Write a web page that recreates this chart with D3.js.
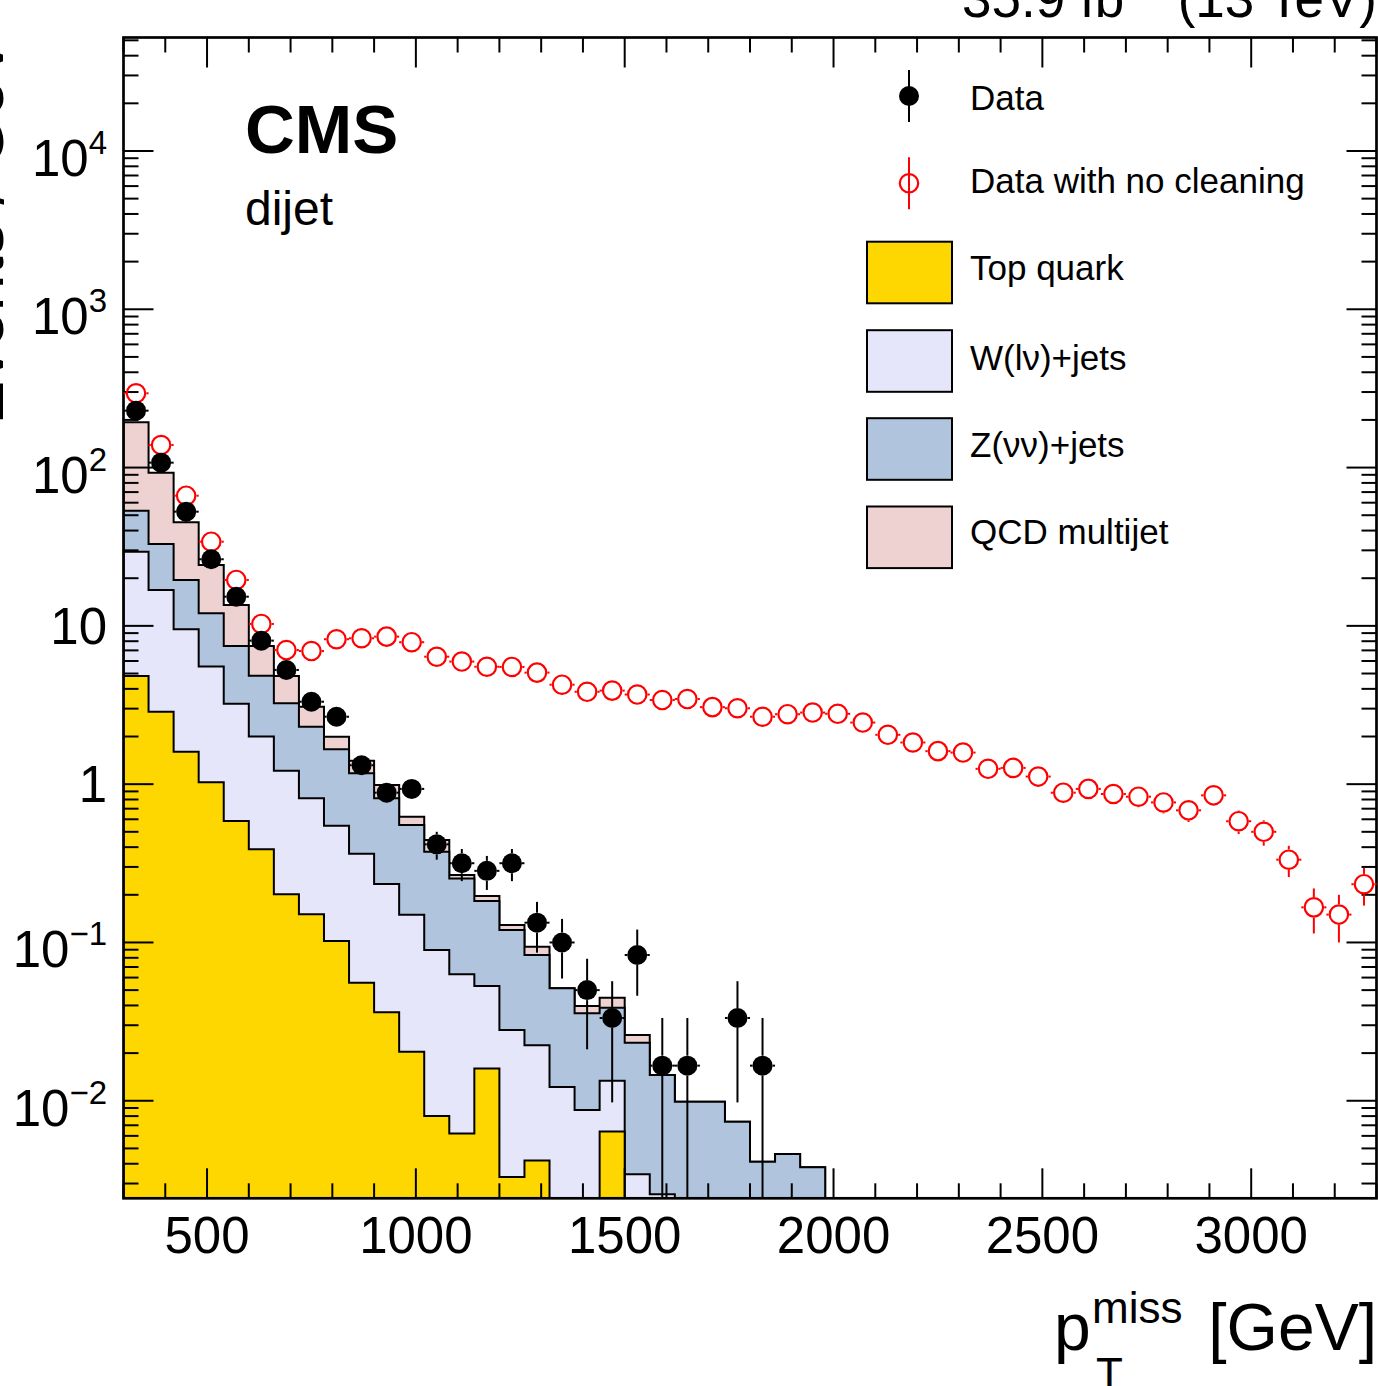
<!DOCTYPE html>
<html>
<head>
<meta charset="utf-8">
<script src="https://cdn.jsdelivr.net/npm/d3@7"></script>
<style>
  body { margin: 0; background: #fff; }
  svg { display: block; font-family: "Liberation Sans", Arial, Helvetica, sans-serif; }
</style>
</head>
<body>
<div id="chart"></div>
<script>
// 60 GeV bins from 300 to 3300 GeV (50 bins)
const binWidth = 60;
const binLow = d3.range(300, 3300, binWidth);

// stacked backgrounds, events / GeV per bin
const topQuark = [4.83, 2.87, 1.60, 1.03, 0.586, 0.388, 0.202, 0.151, 0.102, 0.0557,
  0.0362, 0.0204, 0.0080, 0.0062, 0.0160, 0.0033, 0.0042, 0, 0, 0.0064,
  0, 0, 0, 0, 0, 0, 0, 0, 0, 0,
  0, 0, 0, 0, 0, 0, 0, 0, 0, 0,
  0, 0, 0, 0, 0, 0, 0, 0, 0, 0];
const wJets = [24.6, 14.0, 7.91, 4.50, 2.63, 1.61, 1.015, 0.663, 0.445, 0.308,
  0.198, 0.129, 0.0817, 0.0568, 0.0371, 0.0247, 0.0182, 0.0122, 0.00875, 0.0070,
  0.00343, 0.00257, 0, 0, 0, 0, 0, 0, 0, 0,
  0, 0, 0, 0, 0, 0, 0, 0, 0, 0,
  0, 0, 0, 0, 0, 0, 0, 0, 0, 0];
const zJets = [24.0, 16.05, 9.98, 6.49, 4.25, 2.85, 2.03, 1.49, 1.115, 0.808,
  0.580, 0.403, 0.285, 0.191, 0.130, 0.0919, 0.061, 0.0392, 0.0270, 0.0253,
  0.0198, 0.0120, 0.00987, 0.00987, 0.00738, 0.00412, 0.00461, 0.0038, 0, 0,
  0, 0, 0, 0, 0, 0, 0, 0, 0, 0,
  0, 0, 0, 0, 0, 0, 0, 0, 0, 0];
const qcd = [139.9, 59.95, 25.6, 12.24, 6.09, 2.62, 1.58, 0.78, 0.333, 0.236,
  0.174, 0.071, 0.069, 0.0125, 0.0137, 0.0091, 0.0107, 0, 0.004, 0.0061,
  0.00275, 0, 0, 0, 0, 0, 0, 0, 0, 0,
  0, 0, 0, 0, 0, 0, 0, 0, 0, 0,
  0, 0, 0, 0, 0, 0, 0, 0, 0, 0];

// observed events per bin
const dataCounts = [13728, 6444, 3159, 1581, 917, 484, 316, 199, 160, 79,
  53, 56, 25, 19, 17, 19, 8, 6, 3, 2,
  5, 1, 1, 0, 2, 1, 0, 0, 0, 0,
  0, 0, 0, 0, 0, 0, 0, 0, 0, 0,
  0, 0, 0, 0, 0, 0, 0, 0, 0, 0];
const noCleanCounts = [17680, 8334, 3986, 2041, 1170, 617, 422, 416, 494, 501,
  513, 473, 383, 357, 331, 330, 304, 255, 230, 234,
  221, 204, 207, 184, 181, 160, 166, 170, 167, 147,
  123, 110, 97, 95, 75, 76, 67, 53, 56, 52,
  50, 46, 41, 51, 35, 30, 20, 10, 9, 14];

const xTickValues = [500, 1000, 1500, 2000, 2500, 3000];
const xTickLabels = ["500", "1000", "1500", "2000", "2500", "3000"];
const yTickDecades = [-2, -1, 0, 1, 2, 3, 4];

const stackKeys = ["top", "wjets", "zjets", "qcd"];
const stackColors = { top: "#ffd700", wjets: "#e6e6fa", zjets: "#b0c4de", qcd: "#eed2d2" };

// ---- layout
const W = 1378, H = 1386;
const plot = { left: 123.5, right: 1376.5, top: 37.5, bottom: 1198.3 };
const yMin = 0.00242, yMax = 52100;

const svg = d3.select("#chart").append("svg")
  .attr("width", W).attr("height", H);

const x = d3.scaleLinear().domain([300, 3300]).range([plot.left, plot.right]);
const y = d3.scaleLog().domain([yMin, yMax]).range([plot.bottom, plot.top]).clamp(true);
const yv = (v) => y(Math.max(v, yMin));

svg.append("clipPath").attr("id", "plotclip")
  .append("rect")
  .attr("x", plot.left).attr("y", plot.top)
  .attr("width", plot.right - plot.left).attr("height", plot.bottom - plot.top);

// ---- stacked histograms
const rows = binLow.map((lo, i) => ({
  lo: lo, top: topQuark[i], wjets: wJets[i], zjets: zJets[i], qcd: qcd[i]
}));
const series = d3.stack().keys(stackKeys)(rows);

const line = d3.line();
function stepPoints(layer) {
  const pts = [[x(300), plot.bottom]];
  layer.forEach((d) => {
    const yy = yv(d[1]);
    pts.push([x(d.data.lo), yy], [x(d.data.lo + binWidth), yy]);
  });
  pts.push([x(3300), plot.bottom]);
  return pts;
}

const gStack = svg.append("g").attr("clip-path", "url(#plotclip)");
// draw the tallest (cumulative) first so lower layers cover it
series.slice().reverse().forEach((layer) => {
  gStack.append("path")
    .attr("d", line(stepPoints(layer)) + "Z")
    .attr("fill", stackColors[layer.key])
    .attr("stroke", "#000")
    .attr("stroke-width", 2)
    .attr("stroke-linejoin", "miter");
});

// ---- axes (ROOT style: ticks inside on all four sides)
const xMinor = d3.range(300, 3301, 100);
const yMinor = [];
for (let k = -3; k <= 4; k++) {
  for (let m = 1; m <= 9; m++) {
    const v = m * Math.pow(10, k);
    if (v >= yMin && v <= yMax) yMinor.push(v);
  }
}
const yMajor = yTickDecades.map((k) => Math.pow(10, k));

const gAxes = svg.append("g").attr("stroke", "#000").attr("stroke-width", 2);
xMinor.forEach((v) => {
  const len = xTickValues.includes(v) ? 30 : 15;
  gAxes.append("line").attr("x1", x(v)).attr("x2", x(v))
    .attr("y1", plot.bottom).attr("y2", plot.bottom - len);
  gAxes.append("line").attr("x1", x(v)).attr("x2", x(v))
    .attr("y1", plot.top).attr("y2", plot.top + len);
});
yMinor.forEach((v) => {
  const len = yMajor.some((m) => Math.abs(m - v) / v < 1e-6) ? 30 : 15;
  gAxes.append("line").attr("y1", y(v)).attr("y2", y(v))
    .attr("x1", plot.left).attr("x2", plot.left + len);
  gAxes.append("line").attr("y1", y(v)).attr("y2", y(v))
    .attr("x1", plot.right).attr("x2", plot.right - len);
});

// frame
svg.append("rect")
  .attr("x", plot.left).attr("y", plot.top)
  .attr("width", plot.right - plot.left).attr("height", plot.bottom - plot.top)
  .attr("fill", "none").attr("stroke", "#000").attr("stroke-width", 2.7);

// x tick labels
svg.append("g").selectAll("text")
  .data(xTickValues)
  .join("text")
  .attr("x", (d) => x(d))
  .attr("y", 1253)
  .attr("text-anchor", "middle")
  .attr("font-size", 51)
  .text((d, i) => xTickLabels[i]);

// y tick labels 10^k
const yLab = svg.append("g").selectAll("text")
  .data(yTickDecades)
  .join("text")
  .attr("x", 107)
  .attr("y", (k) => y(Math.pow(10, k)) + (k === 0 || k === 1 ? 18 : 25))
  .attr("text-anchor", "end")
  .attr("font-size", 51);
yLab.each(function (k) {
  const t = d3.select(this);
  if (k === 0) { t.text("1"); return; }
  t.append("tspan").text("10");
  if (k !== 1) {
    t.append("tspan").attr("font-size", 33).attr("dy", -22)
      .text(k < 0 ? "\u2212" + (-k) : String(k));
  }
});

// axis titles
svg.append("text")
  .attr("transform", "translate(3,36) rotate(-90)")
  .attr("text-anchor", "end")
  .attr("font-size", 66)
  .text("Events / GeV");

svg.append("text").attr("x", 1377).attr("y", 1350)
  .attr("text-anchor", "end").attr("font-size", 66).text("[GeV]");
svg.append("text").attr("x", 1054).attr("y", 1350)
  .attr("font-size", 66).text("p");
svg.append("text").attr("x", 1092).attr("y", 1323)
  .attr("font-size", 44).text("miss");
svg.append("text").attr("x", 1096).attr("y", 1389)
  .attr("font-size", 44).text("T");

// luminosity label (top right)
const lumi = svg.append("text").attr("x", 1377).attr("y", 16.5)
  .attr("text-anchor", "end").attr("font-size", 53);
lumi.append("tspan").text("35.9 fb");
lumi.append("tspan").attr("font-size", 34).attr("dy", -22).text("\u22121");
lumi.append("tspan").attr("dy", 22).text(" (13 TeV)");

svg.append("text").attr("x", 245).attr("y", 153)
  .attr("font-size", 69).attr("font-weight", "bold").text("CMS");
svg.append("text").attr("x", 245).attr("y", 225)
  .attr("font-size", 48).text("dijet");

// ---- data points with Poisson error bars
function drawPoints(counts, color, r, filled) {
  const pts = binLow.map((lo, i) => ({
    lo: lo,
    n: counts[i],
    v: counts[i] / binWidth,
    e: Math.sqrt(counts[i]) / binWidth
  })).filter((d) => d.n > 0);

  const g = svg.append("g").attr("stroke", color).attr("stroke-width", 2);
  pts.forEach((d) => {
    const cx = x(d.lo + binWidth / 2);
    const cy = y(d.v);
    const yUp = yv(d.v + d.e);
    const yDn = d.v - d.e > 0 ? yv(d.v - d.e) : plot.bottom;
    if (yUp < cy - r) g.append("line").attr("x1", cx).attr("x2", cx).attr("y1", yUp).attr("y2", cy - r);
    if (yDn > cy + r) g.append("line").attr("x1", cx).attr("x2", cx).attr("y1", cy + r).attr("y2", yDn);
    g.append("line").attr("x1", x(d.lo)).attr("x2", cx - r).attr("y1", cy).attr("y2", cy);
    g.append("line").attr("x1", cx + r).attr("x2", x(d.lo + binWidth)).attr("y1", cy).attr("y2", cy);
  });
  svg.append("g").selectAll("circle")
    .data(pts)
    .join("circle")
    .attr("cx", (d) => x(d.lo + binWidth / 2))
    .attr("cy", (d) => y(d.v))
    .attr("r", filled ? r : r - 1.1)
    .attr("fill", filled ? color : "none")
    .attr("stroke", filled ? "none" : color)
    .attr("stroke-width", 2.2);
}
drawPoints(noCleanCounts, "#ff0000", 10.3, false);
drawPoints(dataCounts, "#000000", 10, true);

// ---- legend
const legendRows = [
  { label: "Data", kind: "data", cy: 96, base: 110 },
  { label: "Data with no cleaning", kind: "noclean", cy: 183.3, base: 192.7 },
  { label: "Top quark", kind: "top", cy: 272.5, base: 280 },
  { label: "W(l\u03bd)+jets", kind: "wjets", cy: 361, base: 370 },
  { label: "Z(\u03bd\u03bd)+jets", kind: "zjets", cy: 449, base: 457 },
  { label: "QCD multijet", kind: "qcd", cy: 537.3, base: 544 }
];
const gLeg = svg.append("g");
legendRows.forEach((row) => {
  if (row.kind === "data" || row.kind === "noclean") {
    const col = row.kind === "data" ? "#000" : "#ff0000";
    gLeg.append("line").attr("x1", 909).attr("x2", 909)
      .attr("y1", row.cy - 26).attr("y2", row.cy + 26)
      .attr("stroke", col).attr("stroke-width", 2);
    gLeg.append("circle").attr("cx", 909).attr("cy", row.cy)
      .attr("r", row.kind === "data" ? 10 : 9.2)
      .attr("fill", row.kind === "data" ? col : "none")
      .attr("stroke", row.kind === "data" ? "none" : col)
      .attr("stroke-width", 2.2);
  } else {
    gLeg.append("rect").attr("x", 867).attr("y", row.cy - 30.8)
      .attr("width", 85).attr("height", 61.6)
      .attr("fill", stackColors[row.kind])
      .attr("stroke", "#000").attr("stroke-width", 2);
  }
  gLeg.append("text").attr("x", 970).attr("y", row.base)
    .attr("font-size", 35).text(row.label);
});
</script>
</body>
</html>
